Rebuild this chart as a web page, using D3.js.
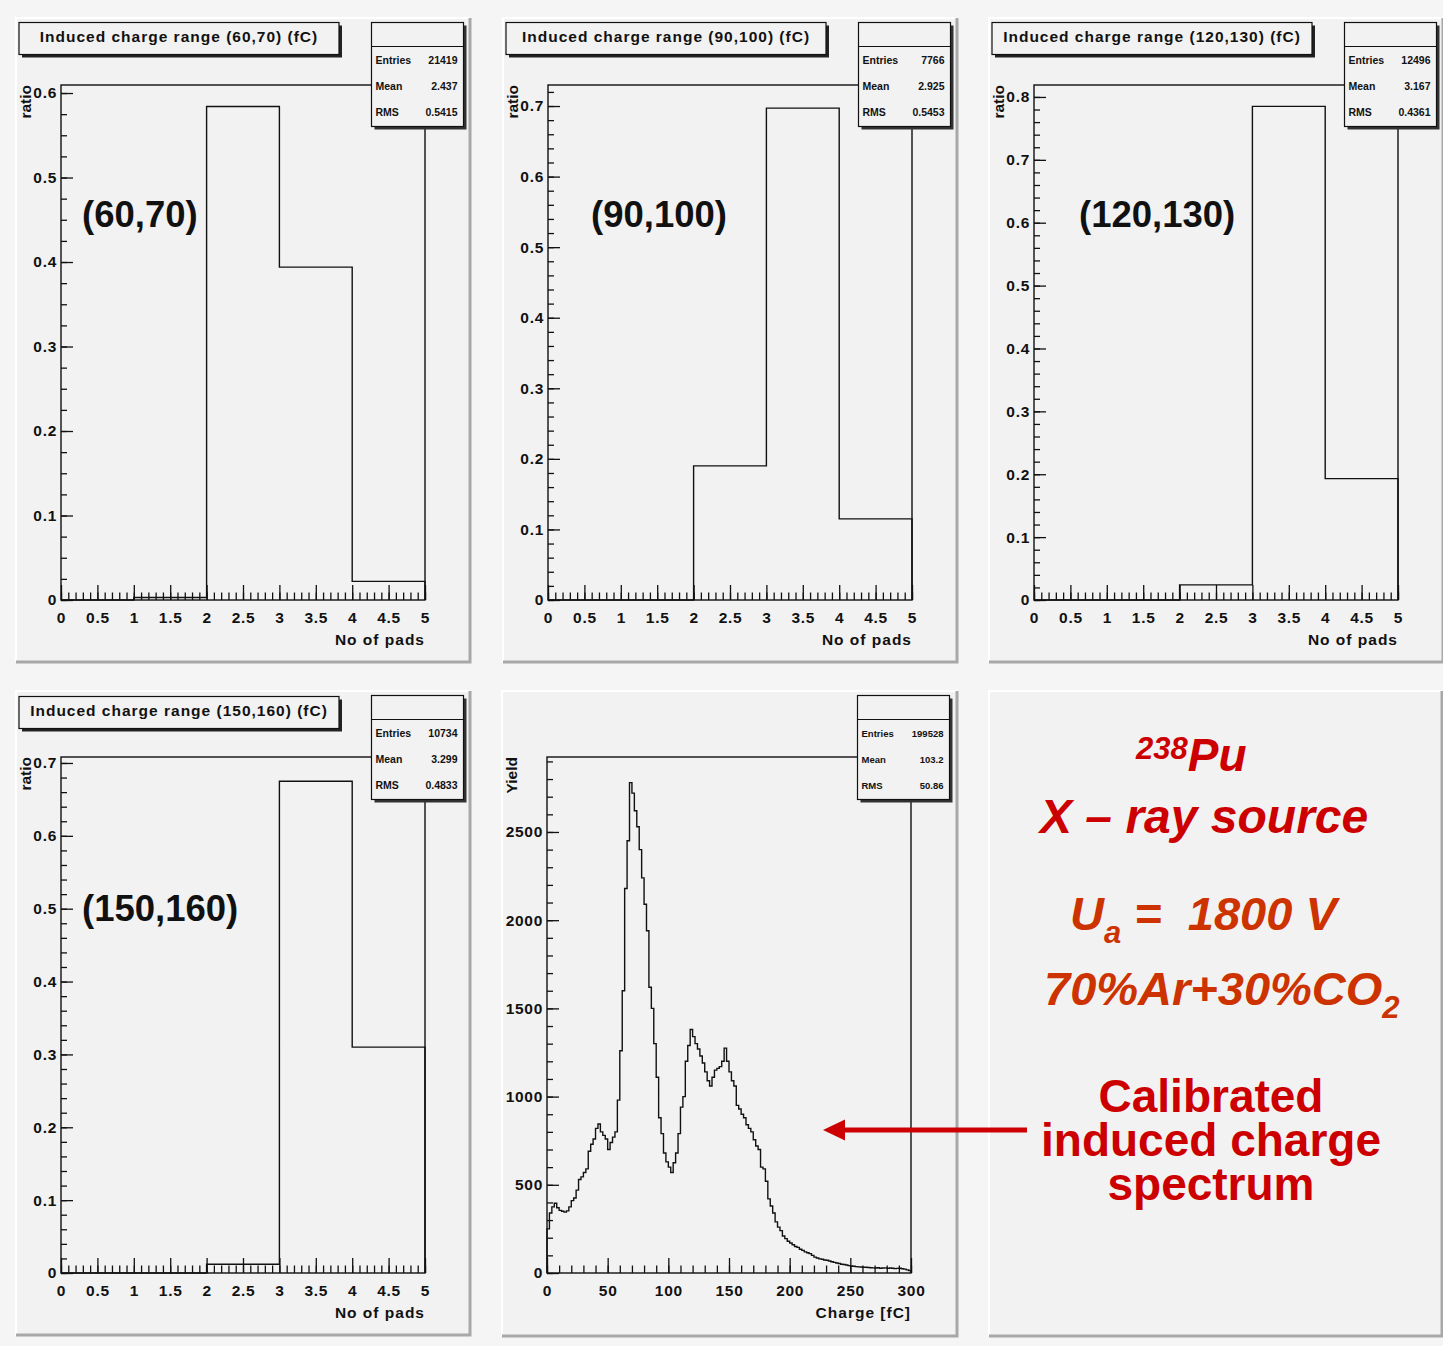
<!DOCTYPE html>
<html>
<head>
<meta charset="utf-8">
<script src="https://cdn.jsdelivr.net/npm/d3@7/dist/d3.min.js"></script>
<style>
body { margin: 0; background: #f5f5f5; }
text { font-family: "Liberation Sans", Arial, Helvetica, sans-serif; font-weight: bold; }
</style>
</head>
<body>
<svg id="chart" width="1443" height="1346"></svg>
<script>
// number of pads hit, left edge of each bin (bin width 1)
var padBins = [0, 1, 2, 3, 4];

// ratio of events per number of pads, one array per charge window
var ratio60_70   = [0, 0.003, 0.584, 0.394, 0.022];
var ratio90_100  = [0, 0, 0.19, 0.697, 0.115];
var ratio120_130 = [0, 0, 0.024, 0.785, 0.193];
var ratio150_160 = [0, 0, 0.012, 0.675, 0.31];

var rangeNames = ["(60,70)", "(90,100)", "(120,130)", "(150,160)"];
var statEntries = ["21419", "7766", "12496", "10734", "199528"];
var statMean    = ["2.437", "2.925", "3.167", "3.299", "103.2"];
var statRMS     = ["0.5415", "0.5453", "0.4361", "0.4833", "50.86"];

// calibrated induced charge spectrum, 2 fC bins from 0 to 300 fC
var chargeBinWidth = 2;
var chargeYield = [
  250, 340, 375, 395, 370, 355, 350, 345, 352, 375,
  410, 425, 470, 530, 545, 570, 590, 690, 730, 760,
  820, 845, 800, 780, 760, 700, 740, 770, 800, 980,
  1260, 1600, 2180, 2450, 2780, 2720, 2620, 2530, 2400, 2240,
  2090, 1940, 1620, 1500, 1300, 1110, 880, 790, 680, 630,
  600, 570, 625, 680, 790, 940, 1000, 1200, 1290, 1380,
  1340, 1300, 1270, 1230, 1190, 1140, 1090, 1060, 1110, 1150,
  1160, 1170, 1200, 1275, 1200, 1140, 1090, 1060, 950, 930,
  900, 880, 840, 820, 800, 755, 720, 700, 600, 590,
  520, 420, 380, 340, 290, 260, 240, 210, 195, 180,
  170, 160, 150, 145, 135, 128, 120, 115, 110, 100,
  90, 85, 80, 78, 74, 72, 68, 64, 60, 57,
  54, 50, 48, 45, 42, 40, 38, 36, 35, 34,
  33, 33, 31, 30, 29, 28, 30, 27, 28, 29,
  26, 28, 27, 25, 26, 27, 24, 22, 18, 14
];

var padTicks = [0, 0.5, 1, 1.5, 2, 2.5, 3, 3.5, 4, 4.5, 5];
var chargeTicks = [0, 50, 100, 150, 200, 250, 300];
var yieldTicks = [0, 500, 1000, 1500, 2000, 2500];

var FONT = '"Liberation Sans", Arial, Helvetica, sans-serif';
var svg = d3.select("#chart");
var fmt = d3.format("~g");

function drawPad(p) {
  svg.append("rect").attr("x", p[0]).attr("y", p[1])
    .attr("width", p[2] - p[0]).attr("height", p[3] - p[1])
    .attr("fill", "#f2f2f2");
  svg.append("path")
    .attr("d", "M" + p[0] + "," + p[3] + "V" + p[1] + "H" + p[2])
    .attr("fill", "none").attr("stroke", "#ffffff").attr("stroke-width", 2);
  svg.append("path")
    .attr("d", "M" + p[0] + "," + p[3] + "H" + p[2] + "V" + p[1])
    .attr("fill", "none").attr("stroke", "#a8a8a8").attr("stroke-width", 3);
}

function styleAxis(g) {
  g.select(".domain").remove();
  g.attr("font-size", 15.5).attr("font-family", FONT).attr("font-weight", "bold")
    .attr("color", "#111").attr("letter-spacing", 0.7);
  g.selectAll("line").attr("stroke-width", 1.3);
}

function histPanel(cfg) {
  drawPad(cfg.pad);
  var f = cfg.frame;
  var x = d3.scaleLinear().domain(cfg.xDomain).range([f[0], f[2]]);
  var y = d3.scaleLinear().domain([0, cfg.yMax]).range([f[3], f[1]]);

  // minor ticks
  svg.append("g").attr("transform", "translate(0," + f[3] + ")")
    .call(d3.axisBottom(x).tickValues(cfg.xMinor).tickSize(-7.5).tickFormat(""))
    .call(styleAxis);
  svg.append("g").attr("transform", "translate(" + f[0] + ",0)")
    .call(d3.axisLeft(y).tickValues(cfg.yMinor).tickSize(-6).tickFormat(""))
    .call(styleAxis);
  // major ticks + labels
  svg.append("g").attr("transform", "translate(0," + f[3] + ")")
    .call(d3.axisBottom(x).tickValues(cfg.xMajor).tickSize(-15).tickPadding(12).tickFormat(fmt))
    .call(styleAxis);
  svg.append("g").attr("transform", "translate(" + f[0] + ",0)")
    .call(d3.axisLeft(y).tickValues(cfg.yMajor).tickSize(-12).tickPadding(4).tickFormat(fmt))
    .call(styleAxis);

  // histogram outline
  var pts = [[x(cfg.edges[0]), y(0)]];
  cfg.values.forEach(function(v, i) {
    pts.push([x(cfg.edges[i]), y(v)]);
    pts.push([x(cfg.edges[i] + cfg.binW), y(v)]);
  });
  pts.push([x(cfg.edges[cfg.edges.length - 1] + cfg.binW), y(0)]);
  svg.append("path").attr("d", d3.line()(pts))
    .attr("fill", "none").attr("stroke", "#111").attr("stroke-width", 1.4);

  // frame
  svg.append("rect").attr("x", f[0]).attr("y", f[1])
    .attr("width", f[2] - f[0]).attr("height", f[3] - f[1])
    .attr("fill", "none").attr("stroke", "#111").attr("stroke-width", 1.4);

  // axis titles
  svg.append("text").attr("x", f[2]).attr("y", f[3] + 44.5)
    .attr("text-anchor", "end").attr("font-size", 15.5).attr("fill", "#111")
    .attr("letter-spacing", 1).text(cfg.xTitle);
  svg.append("text")
    .attr("transform", "translate(" + (f[0] - 30) + "," + f[1] + ") rotate(-90)")
    .attr("text-anchor", "end").attr("font-size", 15.5).attr("fill", "#111")
    .text(cfg.yTitle);

  // title box
  if (cfg.title) {
    var t = cfg.titleBox;
    svg.append("rect").attr("x", t[0] + 3).attr("y", t[1] + 3)
      .attr("width", t[2]).attr("height", t[3]).attr("fill", "#222");
    svg.append("rect").attr("x", t[0]).attr("y", t[1])
      .attr("width", t[2]).attr("height", t[3])
      .attr("fill", "#f2f2f2").attr("stroke", "#111").attr("stroke-width", 1.2);
    svg.append("text").attr("x", t[0] + t[2] / 2).attr("y", t[1] + 19.5)
      .attr("text-anchor", "middle")
      .attr("font-size", 15.5).attr("fill", "#111").attr("letter-spacing", 1)
      .text(cfg.title);
  }

  // stats box
  var s = cfg.statBox;
  svg.append("rect").attr("x", s[0] + 3).attr("y", s[1] + 3)
    .attr("width", 92).attr("height", 104).attr("fill", "#333");
  svg.append("rect").attr("x", s[0]).attr("y", s[1])
    .attr("width", 92).attr("height", 104)
    .attr("fill", "#f2f2f2").attr("stroke", "#111").attr("stroke-width", 1.2);
  svg.append("line").attr("x1", s[0]).attr("x2", s[0] + 92)
    .attr("y1", s[1] + 24).attr("y2", s[1] + 24)
    .attr("stroke", "#111").attr("stroke-width", 1.2);
  var rows = [["Entries", statEntries[cfg.idx]], ["Mean", statMean[cfg.idx]], ["RMS", statRMS[cfg.idx]]];
  rows.forEach(function(r, i) {
    var yy = s[1] + 41 + i * 26.3;
    svg.append("text").attr("x", s[0] + 4).attr("y", yy)
      .attr("font-size", cfg.idx == 4 ? 9.5 : 10.5).attr("fill", "#111").text(r[0]);
    svg.append("text").attr("x", s[0] + 86).attr("y", yy)
      .attr("text-anchor", "end").attr("font-size", cfg.idx == 4 ? 9.5 : 10.5)
      .attr("fill", "#111").text(r[1]);
  });

  if (cfg.label) {
    svg.append("text").attr("x", cfg.labelPos[0]).attr("y", cfg.labelPos[1])
      .attr("font-size", 36.5).attr("fill", "#111").text(cfg.label);
  }
}

function ratioCfg(idx, values, col, row, yMax, yMinorStep) {
  var ox = [0, 487, 973][col];
  var oy = row === 0 ? 0 : 673;
  var top = row === 0 ? 85 : 757;
  var bottom = row === 0 ? 600 : 1273;
  var majors = d3.range(0, yMax, 0.1).map(function(d) { return +d.toFixed(2); });
  var minors = d3.range(0, yMax, yMinorStep).map(function(d) { return +d.toFixed(3); });
  return {
    idx: idx,
    pad: [16 + ox, 18 + oy, 470 + ox, 662 + oy],
    frame: [61 + ox, top, 425 + ox, bottom],
    xDomain: [0, 5], yMax: yMax,
    xMajor: padTicks, xMinor: d3.range(0, 5.001, 0.1).map(function(d) { return +d.toFixed(1); }),
    yMajor: majors, yMinor: minors,
    edges: padBins, binW: 1, values: values,
    xTitle: "No of pads", yTitle: "ratio",
    title: "Induced charge range " + rangeNames[idx] + " (fC)",
    titleBox: [19 + ox, row === 0 ? 22.5 : 696.5, 320, 32],
    statBox: [371.5 + ox, row === 0 ? 22.5 : 695.5],
    label: rangeNames[idx],
    labelPos: [[82, 591, 1079][col], row === 0 ? 227 : 921]
  };
}

histPanel(ratioCfg(0, ratio60_70, 0, 0, 0.6095, 0.025));
histPanel(ratioCfg(1, ratio90_100, 1, 0, 0.7298, 0.02));
histPanel(ratioCfg(2, ratio120_130, 2, 0, 0.819, 0.02));
histPanel(ratioCfg(3, ratio150_160, 0, 1, 0.7082, 0.02));

// spectrum panel
histPanel({
  idx: 4,
  pad: [502, 691, 957, 1336],
  frame: [547, 757, 911, 1273],
  xDomain: [0, 300], yMax: 2925,
  xMajor: chargeTicks, xMinor: d3.range(0, 301, 10),
  yMajor: yieldTicks, yMinor: d3.range(0, 2925, 100),
  edges: chargeYield.map(function(d, i) { return i * chargeBinWidth; }),
  binW: chargeBinWidth, values: chargeYield,
  xTitle: "Charge [fC]", yTitle: "Yield",
  statBox: [857.5, 695.5]
});

// text panel
drawPad([989, 691, 1442, 1336]);
var red = "#cc0000", orange = "#cc3300";

var t1 = svg.append("text").attr("x", 1136).attr("y", 771).attr("fill", red)
  .attr("font-style", "italic");
t1.append("tspan").attr("font-size", 31).attr("dy", -12).text("238");
t1.append("tspan").attr("font-size", 46).attr("dy", 12).text("Pu");

svg.append("text").attr("x", 1040).attr("y", 833).attr("fill", red)
  .attr("font-style", "italic").attr("font-size", 48).text("X \u2013 ray source");

var t3 = svg.append("text").attr("x", 1070).attr("y", 930).attr("fill", orange)
  .attr("font-style", "italic").attr("font-size", 47);
t3.append("tspan").text("U");
t3.append("tspan").attr("font-size", 31).attr("dy", 13).text("a");
t3.append("tspan").attr("dy", -13).attr("xml:space", "preserve").text(" =  1800 V");

var t4 = svg.append("text").attr("x", 1044).attr("y", 1005).attr("fill", orange)
  .attr("font-style", "italic").attr("font-size", 47);
t4.append("tspan").text("70%Ar+30%CO");
t4.append("tspan").attr("font-size", 31).attr("dy", 13).text("2");

["Calibrated", "induced charge", "spectrum"].forEach(function(s, i) {
  svg.append("text").attr("x", 1211).attr("y", 1112 + i * 44)
    .attr("text-anchor", "middle").attr("font-size", 46).attr("fill", red).text(s);
});

// arrow pointing at the spectrum
svg.append("line").attr("x1", 1027).attr("x2", 840).attr("y1", 1130).attr("y2", 1130)
  .attr("stroke", red).attr("stroke-width", 5);
svg.append("path").attr("d", "M823,1130L845,1119.5L845,1140.5Z").attr("fill", red);
</script>
</body>
</html>
